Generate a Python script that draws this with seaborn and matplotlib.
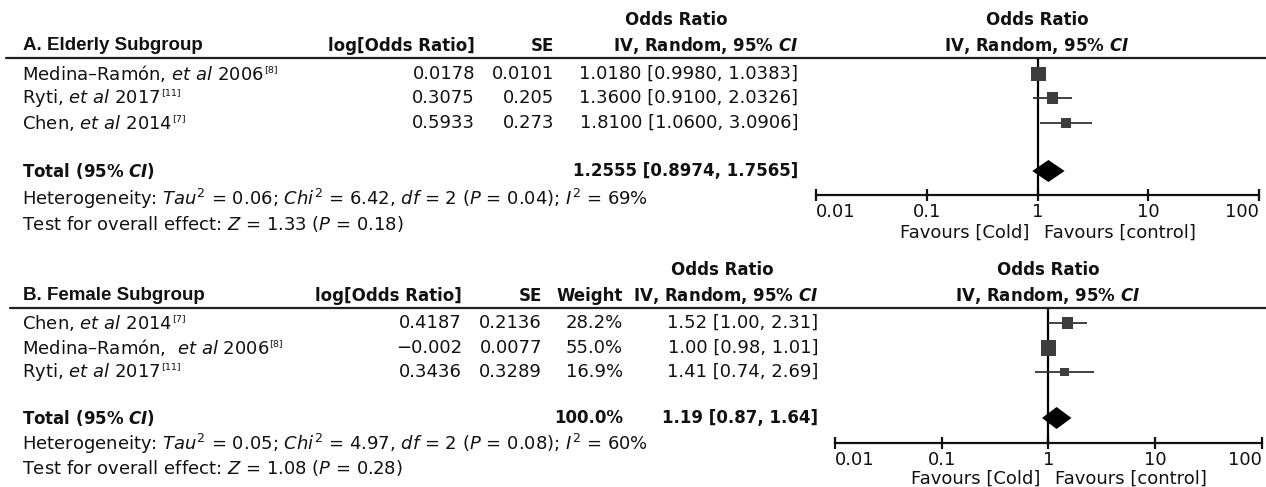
import numpy as np
import pandas as pd
import matplotlib
matplotlib.use("Agg")
import matplotlib.pyplot as plt
import seaborn as sns

# =======================
# Data
# =======================
# A. Elderly subgroup
eld_labels = ["Medina–Ramón, $\\mathit{et\\ al}$ 2006",
              "Ryti, $\\mathit{et\\ al}$ 2017",
              "Chen, $\\mathit{et\\ al}$ 2014"]
eld_refs = ["[8]", "[11]", "[7]"]
eld_logor = ["0.0178", "0.3075", "0.5933"]
eld_se = [0.0101, 0.205, 0.273]
eld_or = [1.0180, 1.3600, 1.8100]
eld_lo = [0.9980, 0.9100, 1.0600]
eld_hi = [1.0383, 2.0326, 3.0906]
eld_total = [1.2555, 0.8974, 1.7565]
eld_tau2 = 0.06
eld_het = "Heterogeneity: $\\mathit{Tau}^2$ = 0.06; $\\mathit{Chi}^2$ = 6.42, $\\mathit{df}$ = 2 ($\\mathit{P}$ = 0.04); $\\mathit{I}^2$ = 69%"
eld_test = "Test for overall effect: $\\mathit{Z}$ = 1.33 ($\\mathit{P}$ = 0.18)"

# B. Female subgroup
fem_labels = ["Chen, $\\mathit{et\\ al}$ 2014",
              "Medina–Ramón,  $\\mathit{et\\ al}$ 2006",
              "Ryti, $\\mathit{et\\ al}$ 2017"]
fem_refs = ["[7]", "[8]", "[11]"]
fem_logor = ["0.4187", "−0.002", "0.3436"]
fem_se = ["0.2136", "0.0077", "0.3289"]
fem_weight = [28.2, 55.0, 16.9]
fem_weight_total = 100.0
fem_or = [1.52, 1.00, 1.41]
fem_lo = [1.00, 0.98, 0.74]
fem_hi = [2.31, 1.01, 2.69]
fem_total = [1.19, 0.87, 1.64]
fem_het = "Heterogeneity: $\\mathit{Tau}^2$ = 0.05; $\\mathit{Chi}^2$ = 4.97, $\\mathit{df}$ = 2 ($\\mathit{P}$ = 0.08); $\\mathit{I}^2$ = 60%"
fem_test = "Test for overall effect: $\\mathit{Z}$ = 1.08 ($\\mathit{P}$ = 0.28)"

xticks = [0.01, 0.1, 1, 10, 100]
xtick_labels = ["0.01", "0.1", "1", "10", "100"]

# random-effects weights for the elderly squares (not printed in the table)
w = 1 / (np.array(eld_se) ** 2 + eld_tau2)
eld_weight = 100 * w / w.sum()

# =======================
# Style
# =======================
sns.set_theme(style="white")
plt.rcParams["font.family"] = ["DejaVu Sans"]
plt.rcParams["mathtext.fontset"] = "dejavusans"
FS = 13      # body text
FSB = 12     # bold headers
INK = "#111111"

W, H = 1266, 487
fig = plt.figure(figsize=(W / 100, H / 100), dpi=100)
tab = fig.add_axes([0, 0, 1, 1])
tab.set_xlim(0, W)
tab.set_ylim(H, 0)
tab.axis("off")


def txt(x, y, s, ha="left", bold=False, size=None, **kw):
    return tab.text(x, y, s, ha=ha, va="center", color=INK,
                    fontsize=size or (FSB if bold else FS),
                    fontweight="bold" if bold else "normal", **kw)


def study(y, label, ref):
    t = txt(22, y, label)
    tab.annotate(ref, xy=(1, 0.93), xycoords=t, xytext=(0, 0),
                 textcoords="offset points", ha="left", va="top",
                 fontsize=6.8, color=INK)


def forest(px_left, px_right, line_y, axis_y, rows_y, total_y,
           ors, los, his, weights, total):
    ax = fig.add_axes([px_left / W, 1 - axis_y / H,
                       (px_right - px_left) / W, (axis_y - line_y) / H])
    ax.set_xscale("log")
    ax.set_xlim(0.01, 100)
    ax.set_ylim(axis_y, line_y)
    ax.set_facecolor("none")
    ax.axvline(1, color="black", lw=1.6, zorder=1)
    ax.hlines(rows_y, los, his, color="#333333", lw=1.3, zorder=2)
    df = pd.DataFrame({"or": ors, "y": rows_y, "w": weights})
    sns.scatterplot(data=df, x="or", y="y", size="w", sizes=(0, 225),
                    size_norm=(0, 100), marker="s", color="#3d3d3d",
                    linewidth=0, legend=False, ax=ax, zorder=3)
    est, lo, hi = total
    h = 11
    ax.fill([lo, est, hi, est], [total_y, total_y - h, total_y, total_y + h],
            color="black", lw=0, zorder=4)
    for side in ["top", "left", "right"]:
        ax.spines[side].set_visible(False)
    ax.spines["bottom"].set_linewidth(1.6)
    ax.spines["bottom"].set_color("#111111")
    ax.set_xticks(xticks)
    ax.set_xticklabels(xtick_labels, fontsize=FS, color=INK)
    labs = ax.get_xticklabels()
    labs[0].set_horizontalalignment("left")
    labs[-1].set_horizontalalignment("right")
    ax.minorticks_off()
    ax.tick_params(axis="x", direction="inout", length=9, width=1.6,
                   pad=1, colors="#111111", labelcolor=INK, bottom=True)
    ax.set_yticks([])
    ax.set_xlabel("")
    ax.set_ylabel("")
    return ax


def favours(ax, dy):
    ax.annotate("Favours [Cold]", xy=(1, 0), xycoords=("data", "axes fraction"),
                xytext=(-6, dy), textcoords="offset points", ha="right",
                va="center", fontsize=FS, color=INK)
    ax.annotate("Favours [control]", xy=(1, 0), xycoords=("data", "axes fraction"),
                xytext=(5, dy), textcoords="offset points", ha="left",
                va="center", fontsize=FS, color=INK)


# =======================
# Panel A
# =======================
rowsA = [74, 98, 123]
txt(23, 46, "A. Elderly Subgroup", bold=True, size=13.5, family="Liberation Sans")
txt(475, 46, "log[Odds Ratio]", ha="right", bold=True)
txt(554, 46, "SE", ha="right", bold=True)
txt(676, 20, "Odds Ratio", ha="center", bold=True)
txt(798, 46, "IV, Random, 95% $\\mathbfit{CI}$", ha="right", bold=True)
txt(1037, 20, "Odds Ratio", ha="center", bold=True)
txt(1037, 46, "IV, Random, 95% $\\mathbfit{CI}$", ha="center", bold=True)
tab.plot([6, W], [58, 58], color="#222222", lw=1.6)
for y, lab, ref, lg, se, o, lo, hi in zip(rowsA, eld_labels, eld_refs, eld_logor,
                                          eld_se, eld_or, eld_lo, eld_hi):
    study(y, lab, ref)
    txt(475, y, lg, ha="right")
    txt(554, y, f"{se:g}", ha="right")
    txt(798, y, f"{o:.4f} [{lo:.4f}, {hi:.4f}]", ha="right")
txt(22, 171, "Total (95% $\\mathbfit{CI}$)", bold=True)
txt(798, 171, "{:.4f} [{:.4f}, {:.4f}]".format(*eld_total), ha="right", bold=True)
txt(22, 199, eld_het)
txt(22, 224, eld_test)

axA = forest(816, 1259, 58, 195, rowsA, 171, eld_or, eld_lo, eld_hi,
             eld_weight, eld_total)
favours(axA, -27)

# =======================
# Panel B
# =======================
rowsB = [323, 348, 372]
txt(23, 296, "B. Female Subgroup", bold=True, size=13.5, family="Liberation Sans")
txt(462, 296, "log[Odds Ratio]", ha="right", bold=True)
txt(542, 296, "SE", ha="right", bold=True)
txt(623, 296, "Weight", ha="right", bold=True)
txt(722, 270, "Odds Ratio", ha="center", bold=True)
txt(818, 296, "IV, Random, 95% $\\mathbfit{CI}$", ha="right", bold=True)
txt(1048, 270, "Odds Ratio", ha="center", bold=True)
txt(1048, 296, "IV, Random, 95% $\\mathbfit{CI}$", ha="center", bold=True)
tab.plot([10, W], [308, 308], color="#222222", lw=1.6)
for y, lab, ref, lg, se, wt, o, lo, hi in zip(rowsB, fem_labels, fem_refs, fem_logor,
                                              fem_se, fem_weight, fem_or, fem_lo, fem_hi):
    study(y, lab, ref)
    txt(462, y, lg, ha="right")
    txt(542, y, se, ha="right")
    txt(623, y, f"{wt:.1f}%", ha="right")
    txt(818, y, f"{o:.2f} [{lo:.2f}, {hi:.2f}]", ha="right")
txt(22, 418, "Total (95% $\\mathbfit{CI}$)", bold=True)
txt(623, 418, f"{fem_weight_total:.1f}%", ha="right", bold=True)
txt(818, 418, "{:.2f} [{:.2f}, {:.2f}]".format(*fem_total), ha="right", bold=True)
txt(22, 444, fem_het)
txt(22, 468, fem_test)

axB = forest(835, 1262, 308, 443, rowsB, 418, fem_or, fem_lo, fem_hi,
             fem_weight, fem_total)
favours(axB, -26)

fig.savefig("out.png", dpi=100)
